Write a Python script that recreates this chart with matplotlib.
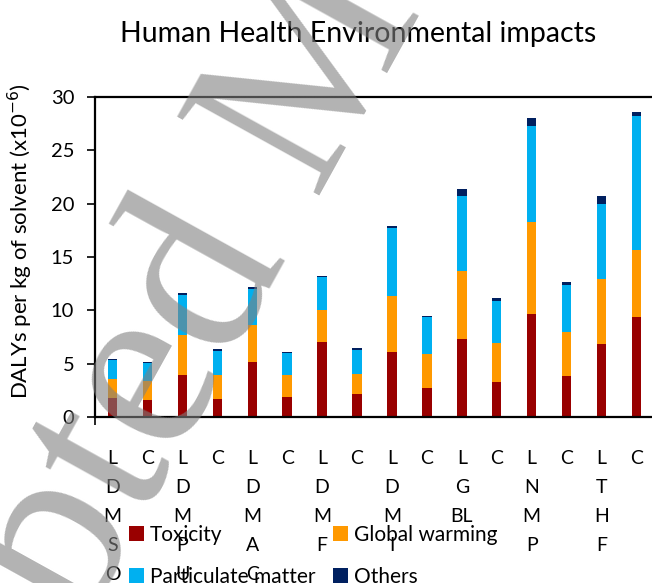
import matplotlib
matplotlib.use("Agg")
import matplotlib.pyplot as plt
from matplotlib.patches import Patch

# solvent pairs: L... = lignin-derived solvent, C = conventional counterpart
solvents = ["L\nD\nM\nS\nO", "C", "L\nD\nM\nP\nU", "C", "L\nD\nM\nA\nC", "C",
            "L\nD\nM\nF", "C", "L\nD\nM\nI", "C", "L\nG\nBL", "C",
            "L\nN\nM\nP", "C", "L\nT\nH\nF", "C"]

toxicity = [1.8, 1.63, 3.97, 1.72, 5.19, 1.91, 7.06, 2.19, 6.13, 2.75, 7.34, 3.31, 9.69, 3.88, 6.88, 9.41]
global_warming = [1.8, 1.71, 3.75, 2.25, 3.4, 2.06, 3.0, 1.87, 5.25, 3.19, 6.38, 3.66, 8.62, 4.12, 6.09, 6.28]
particulate = [1.7, 1.75, 3.75, 2.25, 3.44, 2.06, 3.07, 2.25, 6.37, 3.47, 7.03, 3.94, 9.0, 4.41, 7.03, 12.56]
others = [0.1, 0.1, 0.19, 0.12, 0.19, 0.1, 0.09, 0.13, 0.19, 0.09, 0.66, 0.28, 0.75, 0.28, 0.75, 0.38]

series_names = ["Toxicity", "Global warming", "Particulate matter", "Others"]
colors = ["#990000", "#FF9900", "#00B0F0", "#002060"]

plt.rcParams['font.family'] = ['Lato', 'DejaVu Sans']

W, H = 652, 583
fig = plt.figure(figsize=(W / 100, H / 100), dpi=100)
ax = fig.add_axes([95 / W, 1 - 417 / H, 559 / W, 320 / H])
ax.set_facecolor('none')

x = list(range(len(solvents)))
bottom = [0.0] * len(x)
for vals, c in zip([toxicity, global_warming, particulate, others], colors):
    ax.bar(x, vals, width=0.27, bottom=bottom, color=c, linewidth=0)
    bottom = [b + v for b, v in zip(bottom, vals)]

ax.set_xlim(-0.5, 15.5)
ax.set_ylim(0, 30)
ax.set_yticks([0, 5, 10, 15, 20, 25, 30])
ax.tick_params(axis='y', direction='out', length=6, width=1.2, labelsize=14.5, pad=9)
ax.set_xticks(x)
ax.set_xticklabels(solvents, fontsize=14, linespacing=1.85, va='top')
ax.tick_params(axis='x', length=0, pad=24)
ax.set_xticks([-0.5], minor=True)
ax.tick_params(axis='x', which='minor', direction='out', length=6, width=1.2)
for s in ['left', 'bottom', 'top']:
    ax.spines[s].set_linewidth(1.6)
ax.spines['right'].set_visible(False)

ax.set_ylabel("DALYs per kg of solvent (x10$^{-6}$)", fontsize=16)
ax.yaxis.set_label_coords(-0.107, 0.55)

fig.text(358 / W, 1 - 42 / H, "Human Health Environmental impacts",
         fontsize=20.5, ha='center', va='baseline')

# legend filled column-wise -> order so rows read Toxicity/Global warming, Particulate/Others
order = [0, 2, 1, 3]
handles = [Patch(facecolor=colors[i], edgecolor='none') for i in order]
labels = [series_names[i] for i in order]
fig.legend(handles, labels, ncol=2, frameon=False, fontsize=15,
           loc='upper left', bbox_to_anchor=(129 / W, 1 - 525 / H),
           borderaxespad=0, borderpad=0, handlelength=0.7, handleheight=0.7,
           handletextpad=0.3, columnspacing=0.85, labelspacing=1.05)

# watermark
fig.text(287 / W, 1 - 255 / H, "Accepted", family='Liberation Serif', fontsize=178,
         color='#808080', alpha=0.6, rotation=61, rotation_mode='anchor',
         ha='right', va='baseline', zorder=4)
fig.text(287 / W, 1 - 255 / H, " Manuscript", family='Liberation Serif', fontsize=178,
         color='#808080', alpha=0.6, rotation=61, rotation_mode='anchor',
         ha='left', va='baseline', zorder=4)

plt.savefig("out.png", dpi=100)
